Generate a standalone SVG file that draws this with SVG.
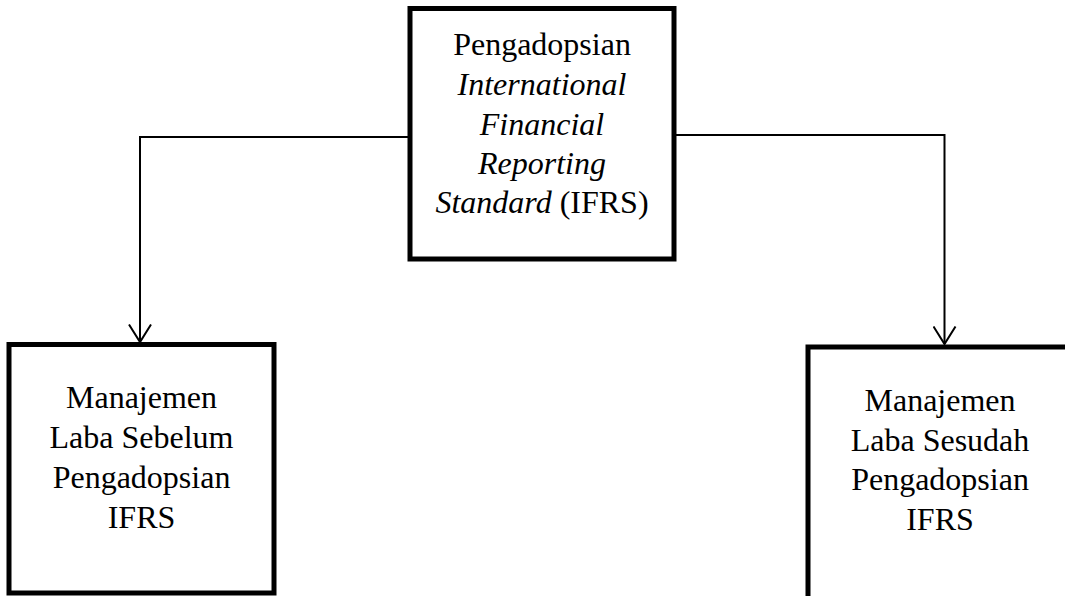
<svg xmlns="http://www.w3.org/2000/svg" width="1065" height="596" viewBox="0 0 1065 596">
<style>
.box{fill:#fff;stroke:#000;stroke-width:5}
.t{font-family:"Liberation Serif","Times New Roman",serif;font-size:32px;fill:#000;text-anchor:middle}
.i{font-style:italic}
.c{fill:none;stroke:#000;stroke-width:2}
</style>
<defs>
<marker id="arr" markerWidth="20" markerHeight="24" refX="18" refY="12" orient="auto" markerUnits="userSpaceOnUse" viewBox="0 0 20 24">
<path d="M0.5,1 L18,12 L0.5,23" fill="none" stroke="#000" stroke-width="2"/>
</marker>
</defs>
<g id="connectors">
<path class="c" d="M410,137 H140 V342" marker-end="url(#arr)"/>
<path class="c" d="M674,135 H944.5 V344" marker-end="url(#arr)"/>
</g>
<g id="node-ifrs">
<rect class="box" x="410" y="8.5" width="264" height="250.5"/>
<text class="t" x="542" y="55">Pengadopsian</text>
<text class="t i" x="542" y="95">International</text>
<text class="t i" x="542" y="135">Financial</text>
<text class="t i" x="542" y="174">Reporting</text>
<text class="t" x="542" y="213"><tspan class="i">Standard</tspan> (IFRS)</text>
</g>
<g id="node-sebelum">
<rect class="box" x="9" y="344.5" width="265" height="248.5"/>
<text class="t" x="141.5" y="408">Manajemen</text>
<text class="t" x="141.5" y="448">Laba Sebelum</text>
<text class="t" x="141.5" y="488">Pengadopsian</text>
<text class="t" x="141.5" y="528">IFRS</text>
</g>
<g id="node-sesudah">
<rect class="box" x="808" y="347" width="270" height="262"/>
<text class="t" x="940" y="411">Manajemen</text>
<text class="t" x="940" y="451">Laba Sesudah</text>
<text class="t" x="940" y="490">Pengadopsian</text>
<text class="t" x="940" y="530">IFRS</text>
</g>
</svg>
